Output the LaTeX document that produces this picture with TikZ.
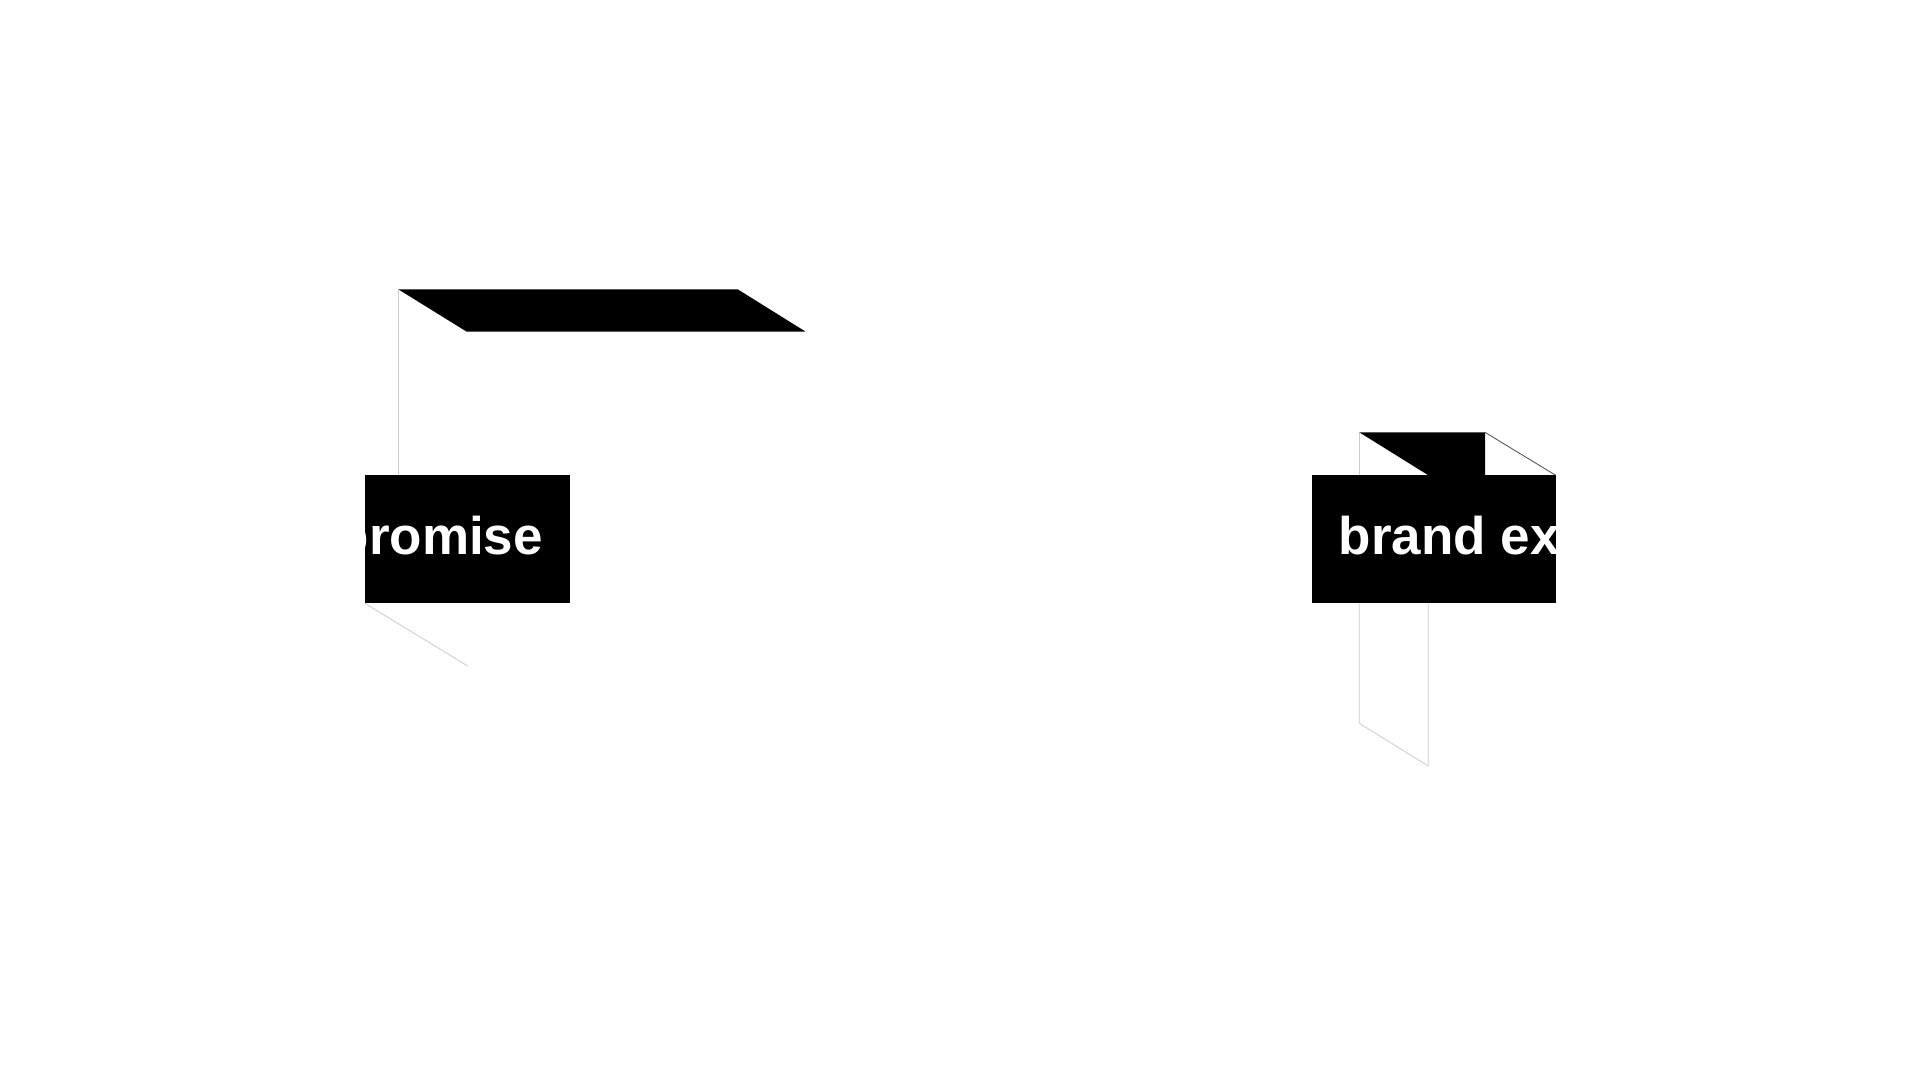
\documentclass[tikz,border=0pt]{standalone}
\usepackage{fontspec}
\setmainfont{Liberation Sans}
\begin{document}
\begin{tikzpicture}[x=1pt,y=-1pt,
  faint/.style={draw=black!20,line width=0.8pt},
  darkedge/.style={draw=black!70,line width=0.8pt},
  label/.style={text=white,font=\fontsize{53}{60}\selectfont\bfseries,inner sep=0pt,anchor=base west}]
\useasboundingbox[fill=white] (0,0) rectangle (1920,1080);
% ---- left cube ----
\draw[faint] (398.3,289.3) -- (398.3,475.3);
\draw[faint] (398.3,475.3) -- (467.7,475.3);
\fill[black] (398.3,289.3) -- (737.7,289.3) -- (805.7,331.7) -- (466.7,331.7) -- cycle;
\draw[faint] (365,603.3) -- (467.7,666);
\fill[black] (365,475.3) rectangle (570.3,603.3);
\begin{scope}
\clip (365,475.3) rectangle (570.3,603.3);
\node[label] (promise) at (336.5,554.3) {promise};
\end{scope}
% ---- right cube ----
\draw[faint] (1359.3,432.3) -- (1359.3,475.3);
\draw[faint] (1485,475.3) -- (1555.7,475.3);
\fill[black] (1359.3,432.3) -- (1485,432.3) -- (1485,475.7) -- (1429,475.7) -- cycle;
\draw[darkedge] (1485,432.3) -- (1555.7,475.3);
\draw[faint] (1359.3,603.3) -- (1359.3,723.3) -- (1428.3,766) -- (1428.3,603.3);
\fill[black] (1311.7,475.3) rectangle (1555.7,603.3);
\begin{scope}
\clip (1311.7,475.3) rectangle (1555.7,603.3);
\node[label] (brand) at (1338.5,554.3) {brand ex};
\end{scope}
\end{tikzpicture}
\end{document}
